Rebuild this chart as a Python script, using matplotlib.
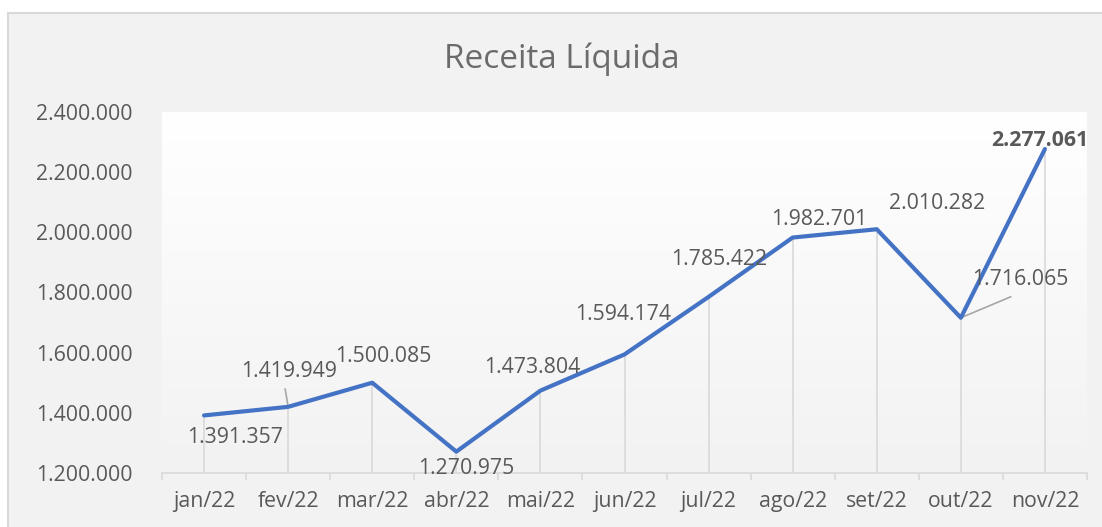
import numpy as np
import matplotlib.pyplot as plt
from matplotlib.patches import Rectangle

months = ['jan/22', 'fev/22', 'mar/22', 'abr/22', 'mai/22', 'jun/22',
          'jul/22', 'ago/22', 'set/22', 'out/22', 'nov/22']
receita = [1391357, 1419949, 1500085, 1270975, 1473804, 1594174,
           1785422, 1982701, 2010282, 1716065, 2277061]
yticks = [1200000, 1400000, 1600000, 1800000, 2000000, 2200000, 2400000]

# label offsets in pixels (dx, dy) from each point
label_offsets = [(31, -22), (1, 35), (11, 26), (10, -17), (-8, 23), (-1, 40),
                 (11, 37), (27, 18), (60, 26), (59, 38), (-5, 8)]
# leader lines: index -> end offset in pixels
leaders = {1: (-3, 18), 9: (50, 21)}

def fmt(v):
    return f'{v:,}'.replace(',', '.')

plt.rcParams['font.family'] = ['Open Sans', 'DejaVu Sans']
gray = '#595959'
line_gray = '#d9d9d9'
fs = 15.3

fig = plt.figure(figsize=(11.02, 5.27), dpi=100)
fig.patch.set_facecolor('white')
fig.patches.append(Rectangle((8 / 1102, -0.1), 1.2, 0.1 + 1 - 13 / 527,
                             transform=fig.transFigure, facecolor='#f2f2f2',
                             edgecolor=line_gray, linewidth=1.5, zorder=-5))

ax = fig.add_axes([162 / 1102, 1 - 473 / 527, (1087 - 162) / 1102, (473 - 112) / 527])
ax.set_facecolor('none')
grad = np.linspace(1, 0, 256).reshape(-1, 1)
cmap = plt.matplotlib.colors.LinearSegmentedColormap.from_list('g', ['#f2f2f2', '#ffffff'])
ax.imshow(grad, extent=[0, 1, 0, 1], transform=ax.transAxes, aspect='auto',
          cmap=cmap, zorder=0, vmin=0, vmax=1)

x = np.arange(len(months))
ax.vlines(x, yticks[0], receita, color=line_gray, linewidth=1.2, zorder=1)
ax.plot(x, receita, color='#4472C4', linewidth=3, solid_capstyle='round',
        solid_joinstyle='round', zorder=3)

ax.set_xlim(-0.5, len(months) - 0.5)
ax.set_ylim(yticks[0], yticks[-1])

for i, v in enumerate(receita):
    dx, dy = label_offsets[i]
    bold = i == len(receita) - 1
    ax.annotate(fmt(v), xy=(i, v), xytext=(dx, dy), textcoords='offset pixels',
                ha='center', va='center', fontsize=fs, color=gray,
                fontweight='bold' if bold else 'normal', zorder=4)
for i, (ex, ey) in leaders.items():
    ax.annotate('', xy=(i, receita[i]), xytext=(ex, ey), textcoords='offset pixels',
                arrowprops=dict(arrowstyle='-', color='#a6a6a6', lw=1.2,
                                shrinkA=0, shrinkB=0), zorder=2)

ax.set_yticks(yticks)
ax.set_yticklabels([fmt(t) for t in yticks])
ax.set_xticks(x)
ax.set_xticklabels(months)
ax.set_xticks(np.arange(-0.5, len(months)), minor=True)
ax.tick_params(axis='y', length=0, pad=21, labelsize=fs, labelcolor=gray)
ax.tick_params(axis='x', which='major', length=0, pad=13, labelsize=fs, labelcolor=gray)
ax.tick_params(axis='x', which='minor', length=5, width=1.2, color=line_gray)

for s in ['top', 'right', 'left']:
    ax.spines[s].set_visible(False)
ax.spines['bottom'].set_color(line_gray)
ax.spines['bottom'].set_linewidth(1.2)

fig.text(562 / 1102, 1 - 59 / 527, 'Receita Líquida', ha='center', va='center',
         fontsize=24, color='#6b6b6b')

fig.savefig('out.png', dpi=100)
